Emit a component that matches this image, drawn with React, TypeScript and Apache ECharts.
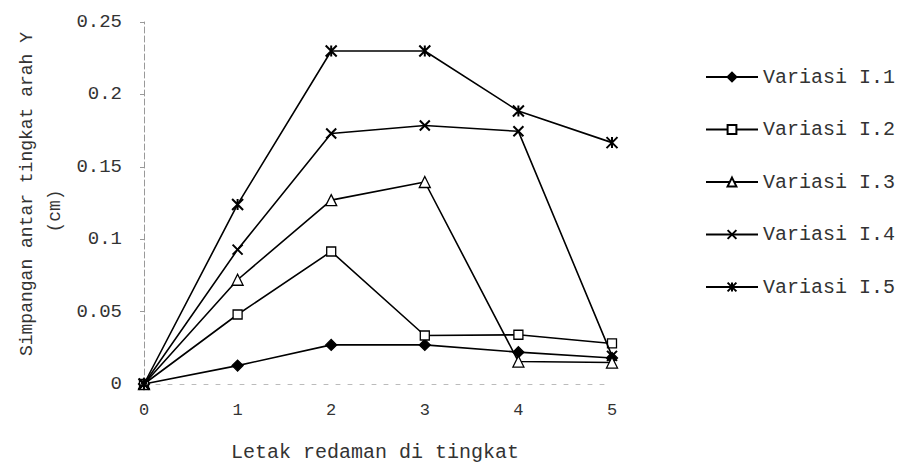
import React, { useEffect, useRef } from "react";
import * as echarts from "echarts";

const xTicks = [0, 1, 2, 3, 4, 5];
const seriesNames = ["Variasi I.1", "Variasi I.2", "Variasi I.3", "Variasi I.4", "Variasi I.5"];
const variasi1 = [0, 0.0127, 0.027, 0.027, 0.022, 0.018];
const variasi2 = [0, 0.048, 0.0915, 0.0335, 0.034, 0.028];
const variasi3 = [0, 0.072, 0.127, 0.1395, 0.0155, 0.0148];
const variasi4 = [0, 0.0928, 0.173, 0.1785, 0.1745, 0.0194];
const variasi5 = [0, 0.124, 0.23, 0.23, 0.1885, 0.1667];
const yTicks = [0, 0.05, 0.1, 0.15, 0.2, 0.25];

const FONT = "'Liberation Mono', 'DejaVu Sans Mono', monospace";

const CROSS = "path://M0 0L10 10M10 0L0 10";
const STAR = "path://M0 0L10 10M10 0L0 10M5 0L5 10";

export default function App() {
  const ref = useRef<HTMLDivElement>(null);
  useEffect(() => {
    if (!ref.current) return;
    const chart = echarts.init(ref.current, null, { renderer: "svg" });
    const allData = [variasi1, variasi2, variasi3, variasi4, variasi5];
    const symbols = ["diamond", "rect", "triangle", CROSS, STAR];
    const sizes = [11, 9, 11, 10, 11];
    const fills = ["#000", "#fff", "#fff", "#000", "#000"];
    const series = allData.map((d, i) => ({
      name: seriesNames[i],
      type: "line",
      data: d.map((v, j) => [xTicks[j], v]),
      symbol: symbols[i],
      symbolSize: sizes[i],
      showSymbol: true,
      lineStyle: { color: "#000", width: 1.6 },
      itemStyle: { color: fills[i], borderColor: "#000", borderWidth: i >= 3 ? 2 : 1.3 },
      z: 2 + i,
    }));
    chart.setOption({
      animation: false,
      backgroundColor: "#fff",
      grid: { left: 144, top: 22, width: 468, height: 362, containLabel: false },
      xAxis: {
        type: "value",
        min: 0,
        max: 5,
        interval: 1,
        axisLine: { show: true, lineStyle: { color: "#bbb", type: [4, 8], width: 1 } },
        axisTick: { show: false },
        splitLine: { show: false },
        axisLabel: { fontFamily: FONT, fontSize: 17, color: "#333", margin: 18 },
      },
      yAxis: {
        type: "value",
        min: 0,
        max: 0.25,
        interval: 0.05,
        axisLine: { show: true, lineStyle: { color: "#999", type: [6, 3], width: 1 } },
        axisTick: { show: true, length: 4, lineStyle: { color: "#999" } },
        splitLine: { show: false },
        axisLabel: {
          fontFamily: FONT,
          fontSize: 19,
          color: "#333",
          margin: 22,
          formatter: (v: number) => (yTicks.includes(Math.round(v * 100) / 100) ? String(+v.toFixed(2)) : ""),
        },
      },
      legend: {
        orient: "vertical",
        left: 700,
        top: 62,
        itemWidth: 52,
        itemHeight: 11,
        itemGap: 32.5,
        textStyle: { fontFamily: FONT, fontSize: 20, color: "#333" },
        data: seriesNames,
      },
      graphic: [
        {
          type: "text",
          x: 27,
          y: 194,
          rotation: Math.PI / 2,
          style: {
            text: "Simpangan antar tingkat arah Y",
            fontFamily: FONT,
            fontSize: 18,
            fill: "#333",
            textAlign: "center",
            textVerticalAlign: "middle",
          },
        },
        {
          type: "text",
          x: 55,
          y: 211,
          rotation: Math.PI / 2,
          style: {
            text: "(cm)",
            fontFamily: FONT,
            fontSize: 18,
            fill: "#333",
            textAlign: "center",
            textVerticalAlign: "middle",
          },
        },
        {
          type: "text",
          x: 375,
          y: 452,
          style: {
            text: "Letak redaman di tingkat",
            fontFamily: FONT,
            fontSize: 20,
            fill: "#333",
            textAlign: "center",
            textVerticalAlign: "middle",
          },
        },
      ],
      series,
    });
    return () => chart.dispose();
  }, []);
  return <div ref={ref} style={{ width: 905, height: 469, position: "absolute", left: 0, top: 0 }} />;
}
